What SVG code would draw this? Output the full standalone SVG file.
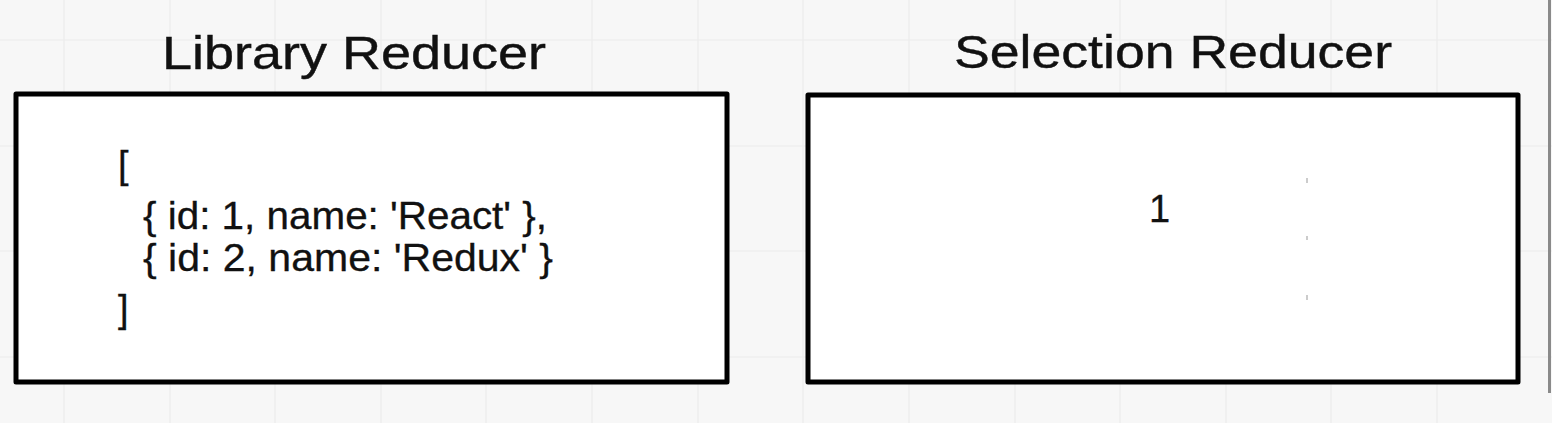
<svg xmlns="http://www.w3.org/2000/svg" width="1552" height="423" viewBox="0 0 1552 423">
  <defs>
    <style>
      .grid { stroke: #ececec; stroke-width: 1.2; fill: none; }
      .box { fill: #ffffff; stroke: #000000; stroke-width: 5; stroke-linejoin: round; }
      .title { font-family: "Liberation Sans", Arial, sans-serif; font-size: 46px; fill: #111111; stroke: #111111; stroke-width: 0.4; }
      .code { font-family: "Liberation Sans", Arial, sans-serif; font-size: 38px; fill: #111111; stroke: #111111; stroke-width: 0.3; }
      .dot { stroke: #bbbbbb; stroke-width: 1.5; }
    </style>
  </defs>
  <rect x="0" y="0" width="1552" height="423" fill="#f7f7f7"/>
  <g id="grid">
    <path class="grid" d="M64 0V423 M170 0V423 M275 0V423 M381 0V423 M486 0V423 M592 0V423 M698 0V423 M803 0V423 M909 0V423 M1015 0V423 M1120 0V423 M1226 0V423 M1331 0V423 M1437 0V423 M0 40H1552 M0 146H1552 M0 251H1552 M0 357H1552"/>
  </g>
  <rect x="1548" y="0" width="3" height="393" fill="#8a8a8a"/>
  <g id="library-reducer">
    <text class="title" x="162" y="69" textLength="384" lengthAdjust="spacingAndGlyphs">Library Reducer</text>
    <rect class="box" x="16" y="94" width="711" height="288"/>
    <text class="code" x="118" y="178" font-size="34">[</text>
    <text class="code" x="143" y="229" textLength="404" lengthAdjust="spacingAndGlyphs">{ id: 1, name: 'React' },</text>
    <text class="code" x="143" y="271" textLength="410" lengthAdjust="spacingAndGlyphs">{ id: 2, name: 'Redux' }</text>
    <text class="code" x="118" y="322" font-size="34">]</text>
  </g>
  <g id="selection-reducer">
    <text class="title" x="954" y="68" textLength="438" lengthAdjust="spacingAndGlyphs">Selection Reducer</text>
    <rect class="box" x="808" y="95" width="710" height="287"/>
    <text class="code" x="1149" y="222">1</text>
    <line class="dot" x1="1307" y1="178" x2="1307" y2="183"/>
    <line class="dot" x1="1307" y1="236" x2="1307" y2="240"/>
    <line class="dot" x1="1307" y1="295" x2="1307" y2="300"/>
  </g>
  <g id="connectors"></g>
</svg>
